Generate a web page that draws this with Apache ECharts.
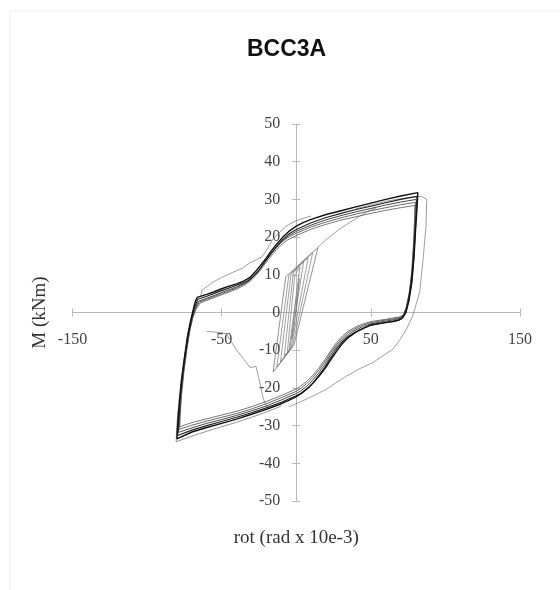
<!DOCTYPE html>
<html>
<head>
<meta charset="utf-8">
<script src="https://cdn.jsdelivr.net/npm/echarts@6/dist/echarts.min.js"></script>
<style>
html,body{margin:0;padding:0;background:#fff;}
#chart{width:560px;height:590px;}
</style>
</head>
<body>
<div id="chart"></div>
<script>
// Tick settings (values)
const xTicks = {min: -150, max: 150, interval: 100};
const yTicks = {min: -50, max: 50, interval: 10};

// Large hysteresis cycles (rotation, moment)
const cycleA = [
[-66.5,4],[-60,4.8],[-55,5.5],[-50,6.3],[-45,7],[-40,7.6],[-35,8.4],[-31,9.3],[-27,11],[-24,12.5],[-20,14.5],[-17,16.2],[-13,18.2],[-9,20],[-5,21.5],[0,22.9],[5,23.9],[10,24.7],[20,26],[30,27],[40,28],[50,29],[60,30],[70,30.9],[81.5,31.8],
[81,28],[80,22],[79,15],[77.5,8],[75.5,3],[73.5,0],[71.5,-1.3],[69,-2],
[65,-2.4],[60,-2.7],[55,-3],[50,-3.3],[45,-4.2],[40,-5.2],[35,-6.6],[31,-8.2],[27,-10.3],[24,-12],[20,-14.5],[16,-16.5],[12,-18.4],[8,-20],[4,-21.3],[0,-22.3],[-5,-23.3],[-10,-24.2],[-20,-25.7],[-30,-27],[-40,-28.3],[-50,-29.4],[-60,-30.5],[-70,-31.7],[-80,-33.5],
[-79.5,-30],[-78.5,-24],[-77,-18],[-75,-12],[-73,-6.5],[-71,-2.5],[-69.5,0],[-68,2.5],[-66.5,4]
];
const cycleB = [
[-66,3.5],[-60,4.3],[-50,5.8],[-40,7.2],[-33,8.3],[-29,9.5],[-25,11.2],[-21,13.5],[-17,15.6],[-13,17.6],[-9,19.4],[-5,20.8],[0,22],[10,23.8],[20,25.2],[30,26.3],[40,27.3],[50,28.2],[60,29.1],[70,30],[81,30.8],
[80.6,27],[79.6,20],[78.5,13],[77,7],[75,2.5],[73,-0.3],[70.5,-1.7],[67,-2.2],
[60,-2.6],[50,-3.4],[45,-4.2],[40,-5.1],[35,-6.3],[31,-7.7],[27,-9.6],[23,-12],[19,-14.6],[15,-16.8],[11,-18.8],[7,-20.3],[3,-21.5],[0,-22.1],[-10,-23.8],[-20,-25.3],[-30,-26.6],[-40,-27.8],[-50,-28.9],[-60,-30],[-70,-31.2],[-79.5,-32.6],
[-79,-29],[-78,-23],[-76.5,-17],[-74.5,-11],[-72.5,-5.8],[-70.5,-2],[-68.5,1],[-66,3.5]
];
const cycleC = [
[-65.5,3],[-60,3.8],[-50,5.3],[-40,6.8],[-34,7.9],[-30,9],[-26,10.6],[-22,12.8],[-18,15],[-14,17],[-10,18.8],[-5,20.4],[0,21.5],[10,23.2],[20,24.6],[30,25.7],[40,26.7],[50,27.6],[60,28.5],[70,29.3],[80.5,30],
[80.2,26],[79.2,19],[78,12],[76.4,6],[74.4,2],[72.4,-0.5],[70,-1.5],[66,-1.9],
[60,-2.3],[50,-3],[45,-3.7],[40,-4.6],[35,-5.8],[31,-7.2],[27,-9],[23,-11.3],[19,-13.9],[15,-16.1],[11,-18],[7,-19.6],[3,-20.8],[0,-21.5],[-10,-23.2],[-20,-24.8],[-30,-26.1],[-40,-27.3],[-50,-28.4],[-60,-29.4],[-70,-30.6],[-79,-31.8],
[-78.6,-28.5],[-77.6,-22.5],[-76,-16.5],[-74,-10.5],[-72,-5.3],[-70,-1.6],[-68,1],[-65.5,3]
];
const cycleD = [
[-65,2.8],[-60,3.5],[-50,5],[-40,6.5],[-35,7.5],[-31,8.6],[-27,10.2],[-23,12.3],[-19,14.5],[-15,16.4],[-11,18.2],[-6,19.8],[0,21],[10,22.7],[20,24],[30,25.1],[40,26.1],[50,27],[60,27.8],[70,28.6],[80,29.2],
[79.7,25],[78.8,18],[77.6,11],[76,5.5],[74,1.5],[72,-0.7],[69.5,-1.3],[65,-1.7],
[60,-2],[50,-2.7],[45,-3.3],[40,-4.2],[35,-5.3],[31,-6.7],[27,-8.5],[23,-10.7],[19,-13.2],[15,-15.4],[11,-17.3],[7,-18.9],[3,-20.1],[0,-20.9],[-10,-22.6],[-20,-24.2],[-30,-25.6],[-40,-26.8],[-50,-27.8],[-60,-28.8],[-70,-29.9],[-78.5,-31],
[-78.2,-28],[-77.2,-22],[-75.6,-16],[-73.6,-10],[-71.6,-5],[-69.6,-1.4],[-67.5,1],[-65,2.8]
];
const cycleE = [
[-64.5,2.5],[-60,3.2],[-50,4.7],[-40,6.2],[-35,7.2],[-31,8.3],[-27,9.8],[-23,11.8],[-19,13.9],[-15,15.8],[-11,17.6],[-6,19.2],[0,20.4],[10,22.1],[20,23.4],[30,24.5],[40,25.4],[50,26.3],[60,27.1],[70,27.8],[79.5,28.4],
[79.2,24],[78.4,17],[77.2,10],[75.6,5],[73.6,1.2],[71.6,-0.8],[69,-1.2],[64,-1.5],
[60,-1.8],[50,-2.4],[45,-3],[40,-3.8],[35,-4.9],[31,-6.2],[27,-8],[23,-10.2],[19,-12.6],[15,-14.8],[11,-16.7],[7,-18.3],[3,-19.5],[0,-20.3],[-10,-22],[-20,-23.6],[-30,-25],[-40,-26.2],[-50,-27.2],[-60,-28.2],[-70,-29.2],[-78,-30.3],
[-77.8,-27.5],[-76.8,-21.5],[-75.2,-15.5],[-73.2,-9.5],[-71.2,-4.7],[-69.2,-1.2],[-67,1],[-64.5,2.5]
];

// Outer thin branches
const outerRight = [[40,27.5],[60,29.5],[75,30.5],[84,30.8],[87.5,30],[87,23],[85,14],[82.7,5.3],[78,-1],[73.8,-4.5],[69,-7.5],[64.6,-9.8],[58,-11.5],[51.3,-13.3],[42,-15],[33.6,-16.9],[26,-18.8],[20,-20.4],[13,-21.8],[6.7,-23],[0,-24.2],[-5,-25]];
const outerLeft = [[-64,4.5],[-63,6],[-56,8],[-50,9.3],[-42.7,10.6],[-36,11.8],[-31,13.2],[-26.5,14],[-22.6,14.9],[-19,17.2],[-15.9,19.3],[-11,21.3],[-6.7,22.9],[-2,24],[2.2,24.7],[10,25.6]];
const outerBottom = [[-10,-24.8],[-20,-26.4],[-30,-27.8],[-40,-29.1],[-50,-30.3],[-60,-31.5],[-70,-32.8],[-80.5,-34.3],[-80.2,-31],[-79.3,-26]];
const transLeft = [[-60,-5],[-52,-5.3],[-47,-5.6],[-44,-7.5],[-40,-10],[-35,-12.5],[-31,-14.6],[-27,-14.3],[-24.5,-18.5],[-22,-23],[-19,-25.5]];
const transTop = [[14.3,17.2],[19,19],[24.4,20.7],[29,22.1],[33.6,23.3],[38,24.4],[42.5,25.5],[48,26.8],[53.7,27.8]];

// Small initial cycles
const small1 = [[0,0],[1,5],[2,9],[0.5,3],[-1.5,-4],[-3,-7],[-1.5,-1],[0,4]];
const small2 = [[-6,-10.5],[-1,10],[2.5,12],[-5,-10.3],[-6,-10.5]];
const small3 = [[-8,-11.5],[-2,10.5],[5,13.5],[-4.5,-10],[-8,-11.5]];
const small4 = [[-10.5,-13],[-3.5,10.2],[3,12.8],[8,14.5],[-3.5,-9.5],[-10.5,-13]];
const small5 = [[-13,-14.5],[-5,9.8],[3,13],[11,15.8],[-2.5,-9],[-9,-12.5],[-13,-14.5]];
const small6 = [[-15.5,-15.8],[-7,9.5],[0,12],[7,14.6],[14.5,17.2],[-1.5,-8.6],[-8,-12],[-15.5,-15.8]];

const serif = 'Liberation Serif';
const chart = echarts.init(document.getElementById('chart'));

function ln(data, color, width) {
  return {type:'line', data:data, showSymbol:false, symbol:'none', silent:true,
    lineStyle:{color:color, width:width}, xAxisIndex:0, yAxisIndex:0, z:3};
}

const axisGray = '#b8b8b8';
const G = {left:72.5, right:40, top:124, bottom:89};
const plotW = 560 - G.left - G.right, plotH = 590 - G.top - G.bottom;
const xShift = plotH / 2, yShift = plotW / 2; // move axes from the grid edges to the origin

chart.setOption({
  animation:false,
  backgroundColor:'#fff',
  graphic:[{type:'rect', shape:{x:10, y:11, width:620, height:620}, style:{fill:'none', stroke:'#ececec', lineWidth:1}, silent:true, z:-10}],
  title:{text:'BCC3A', left:247, top:38, padding:0,
    textStyle:{fontFamily:'Liberation Sans', fontWeight:'bold', fontSize:23, color:'#111'}},
  grid:{left:G.left, right:G.right, top:G.top, bottom:G.bottom, containLabel:false, outerBoundsMode:'none'},
  xAxis:[{
    type:'value', min:xTicks.min, max:xTicks.max, interval:xTicks.interval,
    position:'bottom', offset:-xShift,
    axisLine:{onZero:false, lineStyle:{color:axisGray, width:1}},
    axisTick:{show:true, length:4, lineStyle:{color:axisGray}},
    axisLabel:{fontFamily:serif, fontSize:16, color:'#444', margin:19},
    splitLine:{show:false},
    name:'rot (rad x 10e-3)', nameLocation:'middle', nameGap:216,
    nameTextStyle:{fontFamily:serif, fontSize:19, color:'#333'}
  },{
    type:'value', min:xTicks.min, max:xTicks.max, interval:xTicks.interval,
    position:'top', offset:-xShift,
    axisLine:{onZero:false, lineStyle:{color:'rgba(0,0,0,0)'}},
    axisTick:{show:true, inside:false, length:4, lineStyle:{color:axisGray}},
    axisLabel:{show:false}, splitLine:{show:false}
  }],
  yAxis:[{
    type:'value', min:yTicks.min, max:yTicks.max, interval:yTicks.interval,
    position:'left', offset:-yShift,
    axisLine:{onZero:false, lineStyle:{color:axisGray, width:1}},
    axisTick:{show:true, length:4, lineStyle:{color:axisGray}},
    axisLabel:{fontFamily:serif, fontSize:16, color:'#444', margin:16},
    splitLine:{show:false},
    name:'M (kNm)', nameLocation:'middle', nameGap:247, nameRotate:90,
    nameTextStyle:{fontFamily:serif, fontSize:19, color:'#333'}
  },{
    type:'value', min:yTicks.min, max:yTicks.max, interval:yTicks.interval,
    position:'right', offset:-yShift,
    axisLine:{onZero:false, lineStyle:{color:'rgba(0,0,0,0)'}},
    axisTick:{show:true, inside:false, length:4, lineStyle:{color:axisGray}},
    axisLabel:{show:false}, splitLine:{show:false}
  }],
  series:[
    ln(small1,'#777',0.7), ln(small2,'#777',0.7), ln(small3,'#777',0.7),
    ln(small4,'#777',0.7), ln(small5,'#777',0.7), ln(small6,'#666',0.7),
    ln(transLeft,'#777',0.7), ln(transTop,'#777',0.7),
    ln(outerLeft,'#777',0.7), ln(outerRight,'#777',0.7), ln(outerBottom,'#666',0.7),
    ln(cycleE,'#555',0.8), ln(cycleD,'#444',0.8), ln(cycleC,'#333',0.9),
    ln(cycleB,'#222',1.1), ln(cycleA,'#111',1.4)
  ]
});
</script>
</body>
</html>
